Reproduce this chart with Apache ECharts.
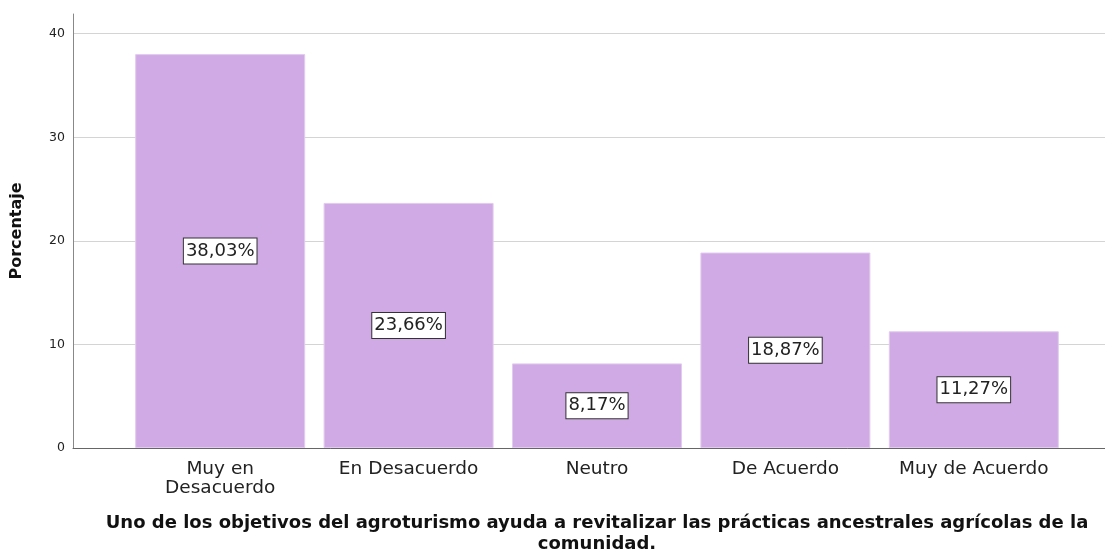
<!DOCTYPE html>
<html lang="es">
<head>
	<meta charset="utf-8">
	<title>Agroturismo</title>
	<script src="https://cdn.jsdelivr.net/npm/echarts@6/dist/echarts.min.js"></script>
	<style>
		html, body { margin: 0; padding: 0; background: #fff; }
		#chart { width: 1105px; height: 551px; }
	</style>
</head>
<body>
<div id="chart"></div>
<script type="text/javascript">
	// datos
	var categorias = ['Muy en\nDesacuerdo', 'En Desacuerdo', 'Neutro', 'De Acuerdo', 'Muy de Acuerdo'];
	var porcentajes = [38.03, 23.66, 8.17, 18.87, 11.27];
	var yMin = 0, yMax = 41.9, yPaso = 10;

	var fuente = '"DejaVu Sans", Verdana, sans-serif';

	var myChart = echarts.init(document.getElementById('chart'));
	var option = {
		backgroundColor: '#fff',
		textStyle: { fontFamily: fuente },
		grid: [
			// ejes y lineas de fondo
			{ left: 73, right: 0, top: 14, bottom: 103, outerBoundsMode: 'none' },
			// barras
			{ left: 126, right: 37, top: 14, bottom: 103, outerBoundsMode: 'none' }
		],
		xAxis: [
			{
				gridIndex: 0,
				type: 'category',
				data: [],
				axisLine: { show: true, lineStyle: { color: '#666', width: 1 } },
				axisTick: { show: false },
				axisLabel: { show: false },
				splitLine: { show: false }
			},
			{
				gridIndex: 1,
				type: 'category',
				data: categorias,
				axisLine: { show: false },
				axisTick: { show: false },
				axisLabel: {
					interval: 0,
					fontSize: 18.5,
					lineHeight: 19,
					color: '#222',
					margin: 12,
					fontFamily: fuente
				},
				name: 'Uno de los objetivos del agroturismo ayuda a revitalizar las prácticas ancestrales agrícolas de la\ncomunidad.',
				nameLocation: 'middle',
				nameGap: 65,
				nameTextStyle: {
					fontSize: 18,
					fontWeight: 'bold',
					color: '#111',
					lineHeight: 21,
					fontFamily: fuente
				}
			}
		],
		yAxis: [
			{
				gridIndex: 0,
				type: 'value',
				min: yMin,
				max: yMax,
				interval: yPaso,
				axisLine: { show: true, lineStyle: { color: '#888', width: 1 } },
				axisTick: { show: false },
				axisLabel: {
					fontSize: 12.5,
					color: '#222',
					margin: 8,
					showMaxLabel: false,
					fontFamily: fuente
				},
				splitLine: {
					show: true,
					showMaxLine: false,
					lineStyle: { color: '#d4d4d4', width: 1 }
				},
				name: 'Porcentaje',
				nameLocation: 'middle',
				nameGap: 48,
				nameTextStyle: {
					fontSize: 16,
					fontWeight: 'bold',
					color: '#111',
					fontFamily: fuente
				}
			},
			{
				gridIndex: 1,
				type: 'value',
				min: yMin,
				max: yMax,
				show: false,
				splitLine: { show: false }
			}
		],
		series: [
			{
				type: 'bar',
				xAxisIndex: 1,
				yAxisIndex: 1,
				data: porcentajes,
				barWidth: 170,
				itemStyle: {
					color: '#D0AAE4',
					borderColor: '#E2CBEF',
					borderWidth: 1
				},
				label: {
					show: true,
					position: 'inside',
					formatter: function (p) {
						return p.value.toFixed(2).replace('.', ',') + '%';
					},
					fontSize: 18,
					color: '#222',
					fontFamily: fuente,
					backgroundColor: '#fff',
					borderColor: '#333',
					borderWidth: 1,
					padding: [4, 2, 3, 2]
				}
			}
		]
	};
	myChart.setOption(option);
</script>
</body>
</html>
